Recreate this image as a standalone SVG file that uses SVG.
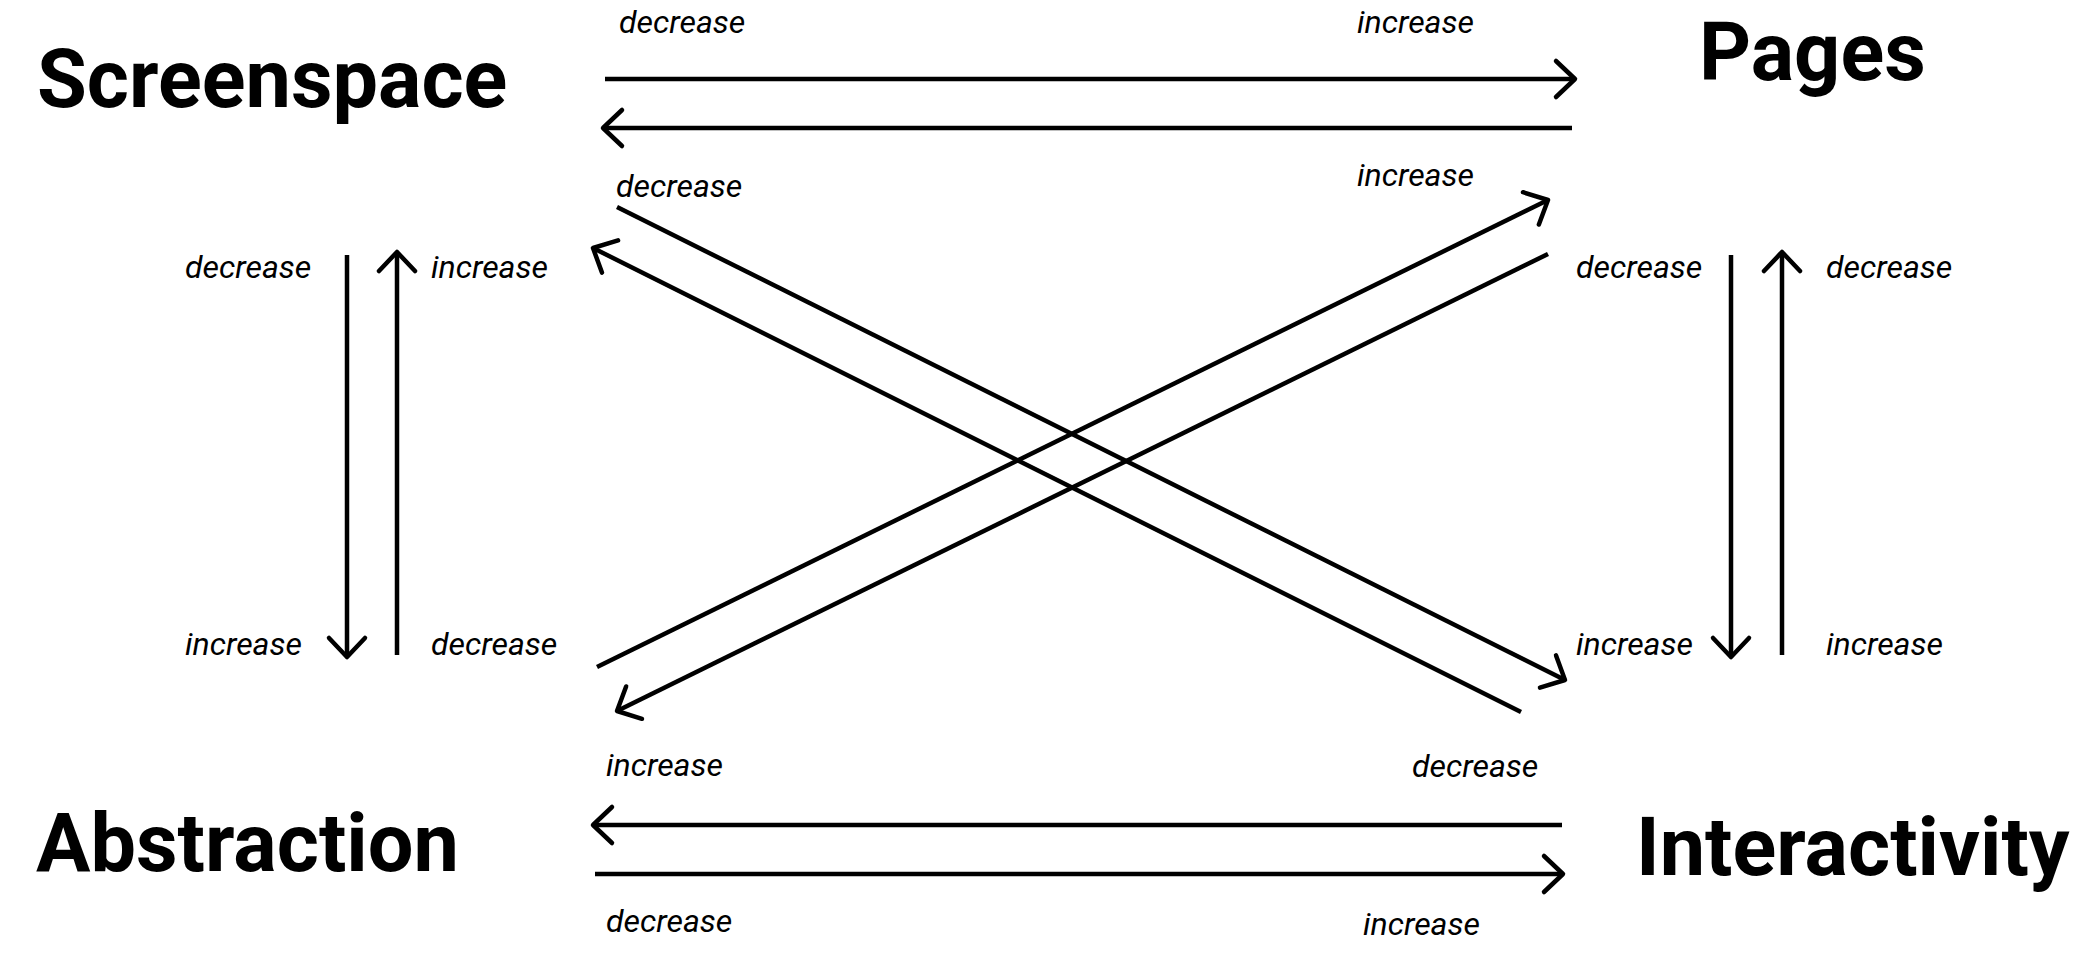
<svg xmlns="http://www.w3.org/2000/svg" width="2094" height="953" viewBox="0 0 2094 953">
<style>
.title{font-family:Roboto,"Liberation Sans",sans-serif;font-weight:700;font-size:81px;fill:#000}
.lbl{font-family:Roboto,"Liberation Sans",sans-serif;font-style:italic;font-size:32px;fill:#000}
.ln{stroke:#000;stroke-width:4.5;fill:none;stroke-linecap:butt;marker-end:url(#ah)}
</style>
<defs>
<marker id="ah" markerUnits="userSpaceOnUse" viewBox="-25 -25 30 50" refX="0" refY="0" markerWidth="30" markerHeight="50" orient="auto" overflow="visible">
<path d="M-19,-18 L0,0 L-19,18" fill="none" stroke="#000" stroke-width="4.5" stroke-linecap="round" stroke-linejoin="round"/>
</marker>
</defs>
<rect width="2094" height="953" fill="#fff"/>
<g id="screenspace"><text class="title" x="37" y="107">Screenspace</text></g>
<g id="pages"><text class="title" x="1699" y="80">Pages</text></g>
<g id="abstraction"><text class="title" x="36" y="871">Abstraction</text></g>
<g id="interactivity"><text class="title" x="1636" y="875">Interactivity</text></g>
<g id="connectors">
<line class="ln" x1="605" y1="79" x2="1575" y2="79"/>
<line class="ln" x1="1572" y1="128" x2="603" y2="128"/>
<line class="ln" x1="617" y1="207" x2="1565" y2="680"/>
<line class="ln" x1="1521" y1="712" x2="593" y2="248"/>
<line class="ln" x1="597" y1="667" x2="1548" y2="200"/>
<line class="ln" x1="1548" y1="254" x2="617" y2="711"/>
<line class="ln" x1="347" y1="255" x2="347" y2="657"/>
<line class="ln" x1="397" y1="655" x2="397" y2="252"/>
<line class="ln" x1="1731" y1="255" x2="1731" y2="657"/>
<line class="ln" x1="1782" y1="655" x2="1782" y2="252"/>
<line class="ln" x1="1562" y1="825" x2="593" y2="825"/>
<line class="ln" x1="595" y1="874" x2="1563" y2="874"/>
</g>
<g id="labels">
<text class="lbl" x="619" y="33">decrease</text>
<text class="lbl" x="1357" y="33">increase</text>
<text class="lbl" x="616" y="197">decrease</text>
<text class="lbl" x="1357" y="186">increase</text>
<text class="lbl" x="185" y="278">decrease</text>
<text class="lbl" x="431" y="278">increase</text>
<text class="lbl" x="185" y="655">increase</text>
<text class="lbl" x="431" y="655">decrease</text>
<text class="lbl" x="1576" y="278">decrease</text>
<text class="lbl" x="1826" y="278">decrease</text>
<text class="lbl" x="1576" y="655">increase</text>
<text class="lbl" x="1826" y="655">increase</text>
<text class="lbl" x="606" y="776">increase</text>
<text class="lbl" x="1412" y="777">decrease</text>
<text class="lbl" x="606" y="932">decrease</text>
<text class="lbl" x="1363" y="935">increase</text>
</g>
</svg>
